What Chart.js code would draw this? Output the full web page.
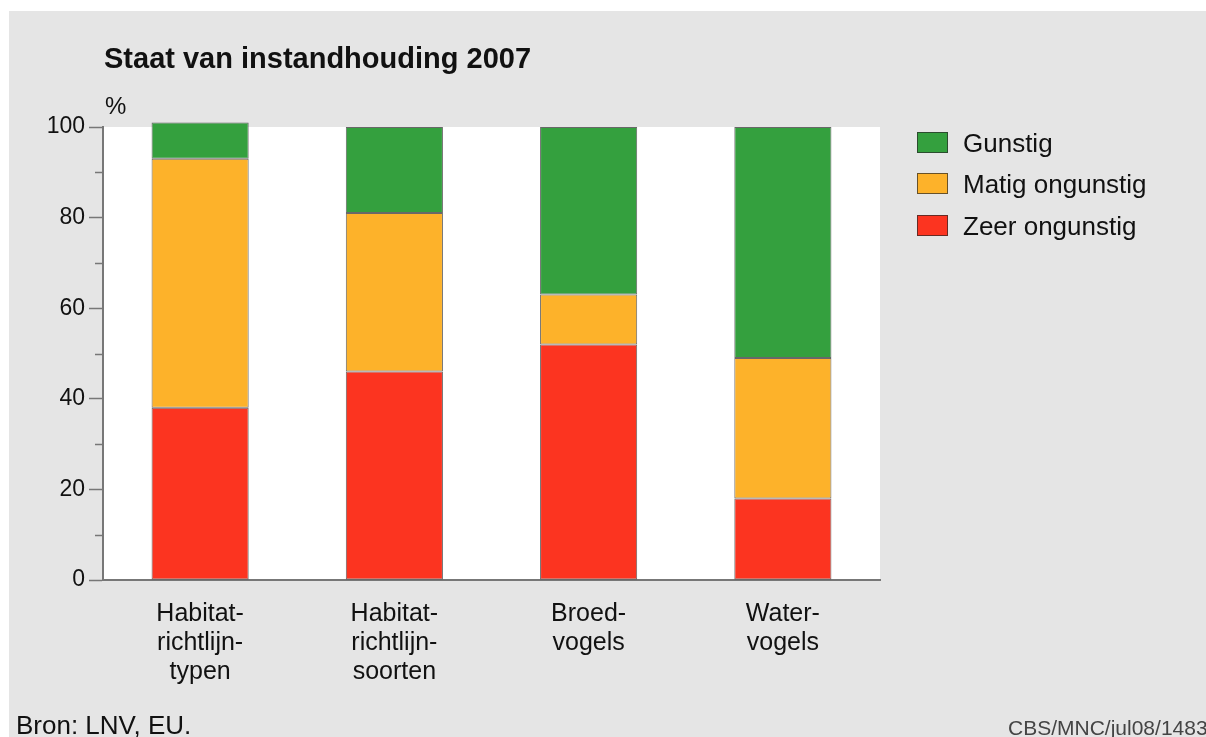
<!DOCTYPE html>
<html><head><meta charset="utf-8">
<script src="https://cdn.jsdelivr.net/npm/chart.js@4/dist/chart.umd.min.js"></script>
<style>
html,body{margin:0;padding:0;background:#fff;width:1206px;height:737px;overflow:hidden;font-family:"Liberation Sans",Arial,sans-serif;}
#bg{position:absolute;left:9px;top:11px;width:1197px;height:726px;background:#e5e5e5;}
#wrap{position:absolute;left:0;top:0;width:1206px;height:737px;}
.t{position:absolute;white-space:nowrap;color:#111;line-height:1;}
.lg{position:absolute;left:917px;font-size:26px;line-height:1;color:#111;white-space:nowrap;}
.lg span.box{position:absolute;left:0;top:0;width:29px;height:19px;border:1px solid rgba(40,40,40,0.7);}
.lg span.txt{position:absolute;left:46px;top:-2px;}
</style></head><body>
<div id="bg"></div>
<div id="wrap"><canvas id="c" width="1206" height="737"></canvas></div>
<div class="t" style="left:104px;top:44px;font-size:29px;font-weight:bold;">Staat van instandhouding 2007</div>
<div class="t" style="left:105px;top:94px;font-size:24px;">%</div>
<div class="t" style="left:16px;top:712px;font-size:26px;">Bron: LNV, EU.</div>
<div class="t" style="left:1008px;top:717px;font-size:21px;color:#444;">CBS/MNC/jul08/1483</div>
<div id="legend"></div>
<script>
const categories = [['Habitat-','richtlijn-','typen'],['Habitat-','richtlijn-','soorten'],['Broed-','vogels'],['Water-','vogels']];
const seriesNames = ['Zeer ongunstig','Matig ongunstig','Gunstig'];
const zeerOngunstig = [38, 46, 52, 18];
const matigOngunstig = [55, 35, 11, 31];
const gunstig = [8, 19, 37, 51];
const yTicks = [0, 20, 40, 60, 80, 100];
const yMinorTicks = [10, 30, 50, 70, 90];
const colors = ['#fc3420', '#fdb22a', '#34a03e'];

const values = [zeerOngunstig, matigOngunstig, gunstig];
const datasets = seriesNames.map((n, i) => ({
  label: n, data: values[i], backgroundColor: colors[i],
  borderColor: 'rgba(40,40,40,0.7)', borderWidth: 1, borderSkipped: false,
  barPercentage: 0.5, categoryPercentage: 1.0, clip: false
}));

// HTML legend (reversed order: top = Gunstig)
const lg = document.getElementById('legend');
const legendTops = [132, 173, 215];
seriesNames.slice().reverse().forEach((n, k) => {
  const i = seriesNames.length - 1 - k;
  const d = document.createElement('div');
  d.className = 'lg'; d.style.top = legendTops[k] + 'px';
  d.innerHTML = '<span class="box" style="background:' + colors[i] + '"></span><span class="txt">' + n + '</span>';
  lg.appendChild(d);
});

const bgPlugin = {
  id: 'plotbg',
  beforeDraw(chart) {
    const {ctx, chartArea: a} = chart;
    ctx.save(); ctx.fillStyle = '#ffffff';
    ctx.fillRect(a.left, a.top, a.right - a.left, a.bottom - a.top);
    ctx.restore();
  },
  afterDraw(chart) {
    const {ctx, chartArea: a} = chart;
    const y = chart.scales.y;
    ctx.save(); ctx.strokeStyle = '#777'; ctx.lineWidth = 1.5;
    yMinorTicks.forEach(v => {
      const p = Math.round(y.getPixelForValue(v)) + 0.5;
      ctx.beginPath(); ctx.moveTo(a.left - 8, p); ctx.lineTo(a.left, p); ctx.stroke();
    });
    ctx.restore();
  }
};

new Chart(document.getElementById('c'), {
  type: 'bar',
  data: { labels: categories, datasets },
  plugins: [bgPlugin],
  options: {
    responsive: false, animation: false,
    layout: { padding: { left: 0, top: 127, right: 326, bottom: 0 } },
    plugins: { legend: { display: false }, title: { display: false }, tooltip: { enabled: false } },
    scales: {
      x: {
        stacked: true,
        afterFit: s => { s.height = 157; },
        grid: { display: false },
        border: { display: true, color: '#777', width: 2 },
        ticks: { color: '#111', font: { family: 'Liberation Sans', size: 25, lineHeight: 1.16 }, padding: 12, maxRotation: 0, autoSkip: false }
      },
      y: {
        stacked: true, min: 0, max: 100,
        afterFit: s => { s.width = 103; },
        afterBuildTicks: s => { s.ticks = yTicks.map(v => ({ value: v })); },
        grid: { display: true, drawOnChartArea: false, drawTicks: true, tickLength: 14, tickColor: '#777', tickWidth: 1.5 },
        border: { display: true, color: '#777', width: 2 },
        ticks: { color: '#111', font: { family: 'Liberation Sans', size: 23 }, padding: 4 }
      }
    }
  }
});
</script>
</body></html>
